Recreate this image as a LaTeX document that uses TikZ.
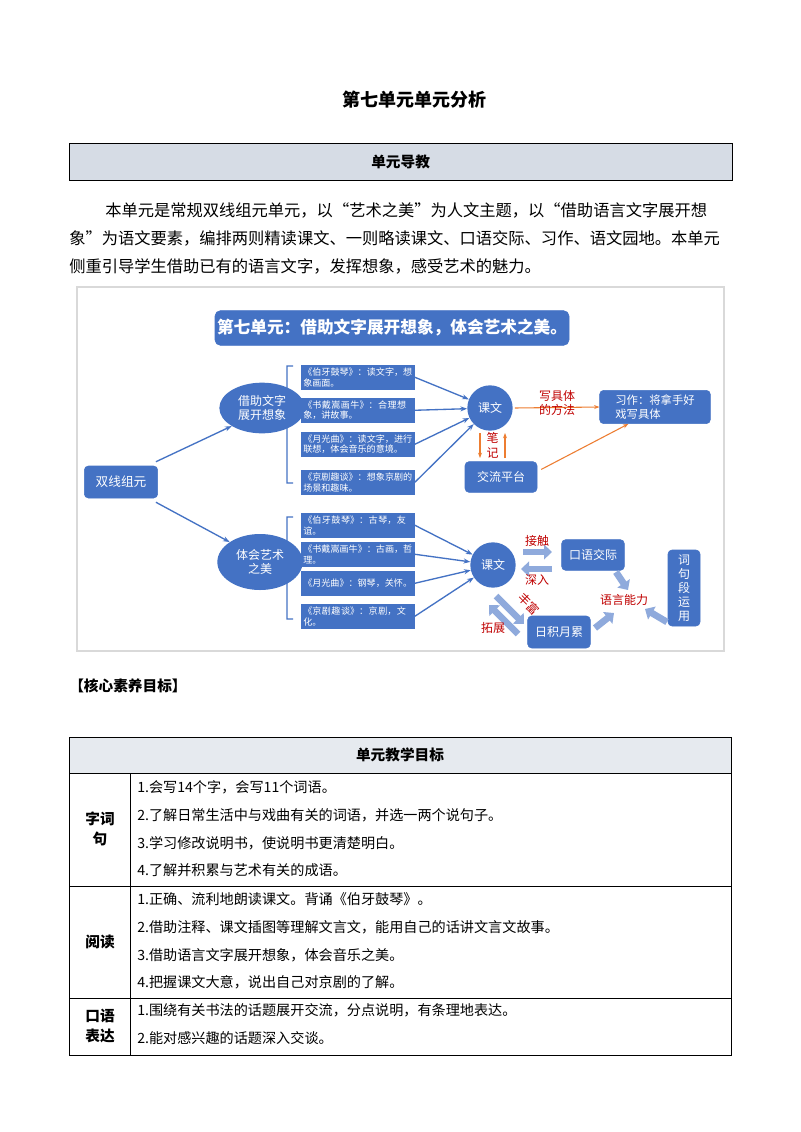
\documentclass[tikz,border=0pt]{standalone}
\usepackage{fontspec}
\setmainfont{Noto Sans CJK SC}
\XeTeXlinebreaklocale "zh"
\XeTeXlinebreakskip=0pt plus 1pt
\usetikzlibrary{arrows.meta,shapes.geometric}
\definecolor{dblue}{HTML}{4472C4}
\definecolor{lblue}{HTML}{8FAADC}
\definecolor{ored}{HTML}{C00000}
\definecolor{oarr}{HTML}{ED7D31}
\definecolor{hdr}{HTML}{D6DCE5}
\tikzset{
 bx/.style={fill=dblue,draw=dblue,rounded corners=2pt,text=white,inner sep=1.5pt},
 sm/.style={bx,rounded corners=0pt,font=\fontsize{6.8}{8}\selectfont,align=left,text width=82pt,minimum height=18pt,anchor=north west},
 el/.style={ellipse,fill=dblue,text=white,align=center,font=\fontsize{9}{11}\selectfont},
 cir/.style={circle,fill=dblue,text=white,minimum size=34pt,inner sep=0pt,font=\fontsize{9}{11}\selectfont},
 ba/.style={draw=dblue,line width=1pt,-{Stealth[length=5pt]}},
 oa/.style={draw=oarr,line width=0.8pt,-{Stealth[length=4pt]}},
 fa/.style={draw=lblue,line width=5pt,-{Triangle[width=11pt,length=6pt]}},
 rl/.style={text=ored,font=\fontsize{9}{11}\selectfont,align=center},
 para/.style={anchor=west,font=\fontsize{12.2}{14}\selectfont,inner sep=0pt},
 tx/.style={anchor=west,font=\fontsize{10.6}{13}\selectfont,inner sep=0pt},
 tl/.style={font=\bfseries\fontsize{11}{15}\selectfont,align=center},
}
\begin{document}
\begin{tikzpicture}[x=0.75pt,y=-0.75pt]
\useasboundingbox[fill=white] (0,0) rectangle (800,1132);
\node[font=\bfseries\fontsize{13.5}{16}\selectfont] (title) at (414,100) {第七单元单元分析};
\node[draw,fill=hdr,minimum width=497pt,minimum height=27.5pt,anchor=north west,font=\bfseries\fontsize{11}{13}\selectfont] (hd) at (69,143) {单元导教};
\node[para] (p1) at (105,210) {本单元是常规双线组元单元，以“艺术之美”为人文主题，以“借助语言文字展开想};
\node[para] (p2) at (69,238) {象”为语文要素，编排两则精读课文、一则略读课文、口语交际、习作、语文园地。本单元};
\node[para] (p3) at (69,266) {侧重引导学生借助已有的语言文字，发挥想象，感受艺术的魅力。};
% diagram frame
\draw[black!15,line width=0.8pt] (77,287) rectangle (724,651);
\node[bx,rounded corners=4pt,minimum width=260pt,minimum height=26pt,font=\bfseries\fontsize{12.5}{15}\selectfont] (top) at (392,328) {第七单元：借助文字展开想象，体会艺术之美。};
\node[bx,rounded corners=3pt,minimum width=55pt,minimum height=24pt,font=\fontsize{9.5}{11}\selectfont] (sx) at (121,482) {双线组元};
\node[el,minimum width=64pt,minimum height=38pt] (e1) at (262,408) {借助文字\\展开想象};
\node[el,minimum width=64pt,minimum height=42pt] (e2) at (260,562) {体会艺术\\之美};
\draw[ba] (sx.north east)++(-2,-4) coordinate (s1) -- (e1.south west);
\draw[ba] (sx.south east)++(-2,4) coordinate (s2) -- (e2.north west);
% brackets
\draw[dblue,line width=1pt] (293,366) -- (287,366) -- (287,483) -- (293,483) (287,424) -- (e1.east);
\draw[dblue,line width=1pt] (293,517) -- (287,517) -- (287,619) -- (293,619) (287,570) -- (e2.east);
\node[sm] (a1) at (301,365) {《伯牙鼓琴》：读文字，想象画面。};
\node[sm] (a2) at (301,398) {《书戴嵩画牛》：合理想象，讲故事。};
\node[sm] (a3) at (301,432) {《月光曲》：读文字，进行联想，体会音乐的意境。};
\node[sm] (a4) at (301,470) {《京剧趣谈》：想象京剧的场景和趣味。};
\node[sm] (b1) at (301,513) {《伯牙鼓琴》：古琴，友谊。};
\node[sm] (b2) at (301,542) {《书戴嵩画牛》：古画，哲理。};
\node[sm] (b3) at (301,571) {《月光曲》：钢琴，关怀。};
\node[sm] (b4) at (301,604) {《京剧趣谈》：京剧，文化。};
\node[cir] (k1) at (490,408) {课文};
\node[cir] (k2) at (493,565) {课文};
\foreach \a in {a1,a2,a3,a4} \draw[ba] (\a.east) -- (k1);
\foreach \b in {b1,b2,b3,b4} \draw[ba] (\b.east) -- (k2);
\node[bx,rounded corners=3pt,minimum width=54pt,minimum height=23pt,font=\fontsize{9}{11}\selectfont] (jl) at (501,477) {交流平台};
\node[bx,rounded corners=3pt,minimum width=83pt,minimum height=25pt,align=left,font=\fontsize{8.5}{10}\selectfont] (xz) at (655,407) {习作：将拿手好\\戏写具体};
\draw[oa] (k1.east)++(2,0) coordinate (kq) -- (xz.west) node[midway,rl,above=-10pt] {写具体\\的方法};
\draw[oa] (jl.north east)++(4,8) coordinate (jq) -- ([xshift=-20pt]xz.south);
\draw[oa] (480,433) -- (480,458);
\draw[oa] (505,458) -- (505,433);
\node[rl,inner sep=0pt] (bj) at (492.5,445) {笔\\记};
\node[bx,rounded corners=3pt,minimum width=47pt,minimum height=23pt,font=\fontsize{9}{11}\selectfont] (ky) at (593,555) {口语交际};
\node[bx,rounded corners=3pt,minimum width=24pt,minimum height=57pt,align=center,font=\fontsize{9}{10.5}\selectfont] (cj) at (684,588) {词\\句\\段\\运\\用};
\node[bx,rounded corners=3pt,minimum width=47pt,minimum height=24pt,font=\fontsize{9}{11}\selectfont] (rj) at (559,632) {日积月累};
\node[rl] (yy) at (624,600) {语言能力};
\draw[fa] (523,552) -- (552,552);
\node[rl] (jc) at (537,541) {接触};
\draw[fa] (552,569) -- (521,569);
\node[rl,inner sep=1pt] (sr) at (537,580) {深入};
\draw[fa] (496,596) -- (524,624);
\node[rl,rotate=-45,inner sep=0pt] (fu) at (529,604) {丰富};
\draw[fa] (518,634) -- (489,605);
\node[rl] (tz) at (493,628) {拓展};
\draw[fa] (616,572) -- (628,590);
\draw[fa] (595,628) -- (614,613);
\draw[fa] (667,622) -- (645,609);
% section title
\node[anchor=west,font=\bfseries\fontsize{11}{13}\selectfont,inner sep=0pt] (hx) at (69,686) {【核心素养目标】};
% table
\draw[fill=hdr!60] (69,737) rectangle (731,773);
\draw (69,773) rectangle (731,1055);
\draw (130,773) -- (130,1055) (69,886) -- (731,886) (69,998) -- (731,998);
\node[tl] (t0) at (400,755) {单元教学目标};
\node[tl] (t1) at (100,829) {字词\\句};
\node[tl] (t2) at (100,942) {阅读};
\node[tl] (t3) at (100,1026) {口语\\表达};
\node[tx] (r1) at (137,787) {1.会写14个字，会写11个词语。};
\node[tx] (r2) at (137,815) {2.了解日常生活中与戏曲有关的词语，并选一两个说句子。};
\node[tx] (r3) at (137,843) {3.学习修改说明书，使说明书更清楚明白。};
\node[tx] (r4) at (137,870) {4.了解并积累与艺术有关的成语。};
\node[tx] (r5) at (137,899) {1.正确、流利地朗读课文。背诵《伯牙鼓琴》。};
\node[tx] (r6) at (137,927) {2.借助注释、课文插图等理解文言文，能用自己的话讲文言文故事。};
\node[tx] (r7) at (137,955) {3.借助语言文字展开想象，体会音乐之美。};
\node[tx] (r8) at (137,982) {4.把握课文大意，说出自己对京剧的了解。};
\node[tx] (r9) at (137,1010) {1.围绕有关书法的话题展开交流，分点说明，有条理地表达。};
\node[tx] (r10) at (137,1038) {2.能对感兴趣的话题深入交谈。};
\end{tikzpicture}
\end{document}
